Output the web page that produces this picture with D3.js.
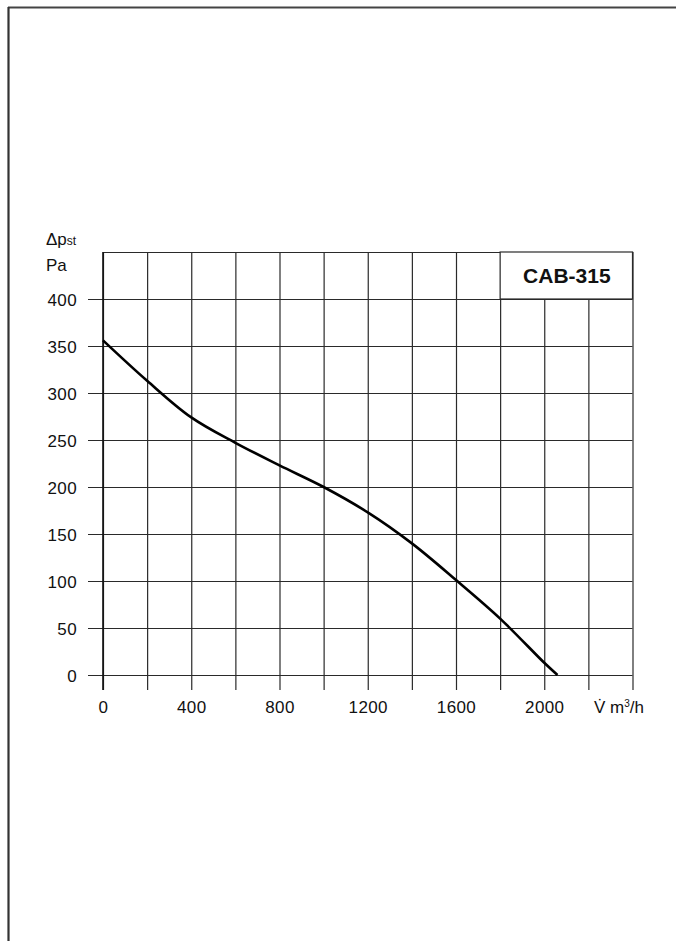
<!DOCTYPE html>
<html>
<head>
<meta charset="utf-8">
<script src="https://cdn.jsdelivr.net/npm/d3@7"></script>
<style>
  html, body { margin: 0; padding: 0; background: #fff; }
  svg text { font-family: "Liberation Sans", Arial, Helvetica, sans-serif; fill: #111; }
</style>
</head>
<body>
<svg id="chart" width="676" height="941"></svg>
<script>
// ---- data ----
const flowValues = [0, 200, 400, 600, 800, 1000, 1200, 1400, 1600, 1800, 2000, 2060];
const pressureValues = [356, 313, 274, 247, 223, 200, 173, 140, 101, 60, 13, 0];
const xTickValues = [0, 200, 400, 600, 800, 1000, 1200, 1400, 1600, 1800, 2000, 2200, 2400];
const xTickLabels = ["0", "", "400", "", "800", "", "1200", "", "1600", "", "2000", "", ""];
const yTickValues = [0, 50, 100, 150, 200, 250, 300, 350, 400, 450];
const yTickLabels = ["0", "50", "100", "150", "200", "250", "300", "350", "400", ""];
const modelName = "CAB-315";

// ---- layout ----
const svg = d3.select("#chart");
const mLeft = 103, mRight = 632.5, mTop = 252, mBottom = 675;
const x = d3.scaleLinear().domain([0, 2400]).range([mLeft, mRight]);
const y = d3.scaleLinear().domain([0, 450]).range([mBottom, mTop]);
const gridColor = "#2a2a2a";

// page frame (scan border)
svg.append("line").attr("x1", 8).attr("x2", 676).attr("y1", 7.5).attr("y2", 7.5)
  .attr("stroke", "#444").attr("stroke-width", 2);
svg.append("line").attr("x1", 8.5).attr("x2", 8.5).attr("y1", 7).attr("y2", 941)
  .attr("stroke", "#333").attr("stroke-width", 2.2);

// x axis: vertical grid lines with ticks below
const xAxis = d3.axisBottom(x).tickValues(xTickValues)
  .tickSize(-(mBottom - mTop) - 15).tickSizeOuter(0)
  .tickFormat((d, i) => xTickLabels[i]);
const gx = svg.append("g").attr("transform", `translate(0,${mBottom + 15})`).call(xAxis);
gx.select(".domain").remove();
gx.selectAll(".tick line").attr("stroke", gridColor).attr("stroke-width", 1.2);
gx.selectAll(".tick text").attr("y", 23).attr("dy", 0)
  .attr("font-size", 17).attr("letter-spacing", 0.4).attr("fill", "#111");

// y axis: horizontal grid lines with ticks at left
const yAxis = d3.axisLeft(y).tickValues(yTickValues)
  .tickSize(-(mRight - mLeft) - 15).tickSizeOuter(0)
  .tickFormat((d, i) => yTickLabels[i]);
const gy = svg.append("g").attr("transform", `translate(${mLeft - 15},0)`).call(yAxis);
gy.select(".domain").remove();
gy.selectAll(".tick line").attr("stroke", gridColor).attr("stroke-width", 1.2);
gy.selectAll(".tick").filter(d => d === 450).select("line")
  .attr("x1", 15);
gy.selectAll(".tick text").attr("x", -11).attr("dy", "0.36em")
  .attr("font-size", 17).attr("letter-spacing", 0.4).attr("fill", "#111");

// model label box in top-right (covers grid)
svg.append("rect")
  .attr("x", x(1800)).attr("y", y(450))
  .attr("width", x(2400) - x(1800)).attr("height", y(400) - y(450))
  .attr("fill", "#fff").attr("stroke", gridColor).attr("stroke-width", 1.2);
svg.append("text")
  .attr("x", (x(1800) + x(2400)) / 2 + 0.5).attr("y", 283)
  .attr("text-anchor", "middle").attr("font-size", 21).attr("font-weight", "bold")
  .text(modelName);

// plot frame left emphasis
svg.append("line").attr("x1", mLeft).attr("x2", mLeft).attr("y1", mTop).attr("y2", mBottom + 15)
  .attr("stroke", "#111").attr("stroke-width", 1.6);

// curve
const line = d3.line().x((d, i) => x(flowValues[i])).y(d => y(d))
  .curve(d3.curveCatmullRom.alpha(0.5));
svg.append("path").datum(pressureValues)
  .attr("d", line).attr("fill", "none").attr("stroke", "#000").attr("stroke-width", 2.6)
  .attr("stroke-linejoin", "round");

// axis titles
const yt = svg.append("text").attr("x", 46).attr("y", 245).attr("font-size", 17);
yt.append("tspan").text("Δp");
yt.append("tspan").attr("font-size", 12).text("st");
svg.append("text").attr("x", 46).attr("y", 271).attr("font-size", 17).text("Pa");

const xt = svg.append("text").attr("x", 594).attr("y", 713).attr("font-size", 17);
xt.append("tspan").text("V̇ m");
xt.append("tspan").attr("font-size", 10).attr("dy", -6).text("3");
xt.append("tspan").attr("dy", 6).text("/h");
</script>
</body>
</html>
